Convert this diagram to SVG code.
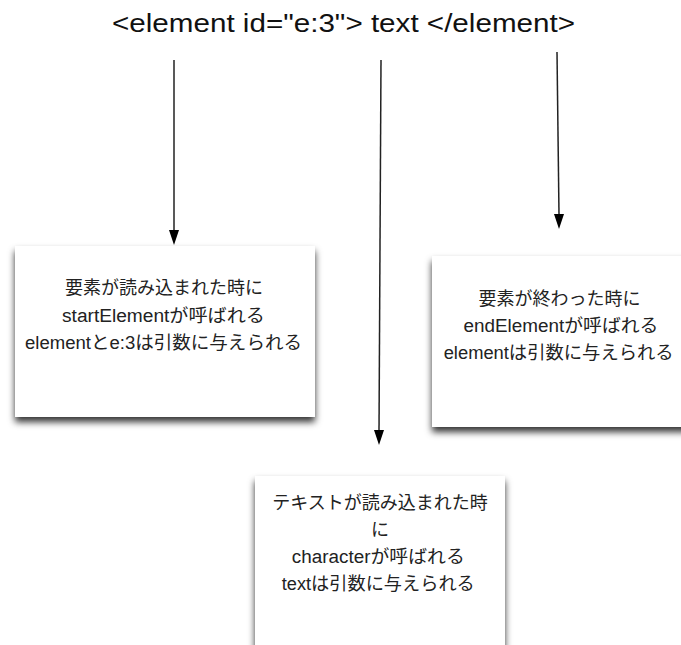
<svg xmlns="http://www.w3.org/2000/svg" width="681" height="645" viewBox="0 0 681 645">
<style>
.box{fill:#ffffff;filter:url(#sh);}
.t{font-family:"Liberation Sans","Noto Sans CJK JP",sans-serif;font-size:18px;fill:#222;text-anchor:middle;}
.title{font-family:"Liberation Sans","Noto Sans CJK JP",sans-serif;font-size:25px;fill:#111;text-anchor:middle;}
.c{stroke:#222;stroke-width:1.5;fill:none;}
.ah{fill:#000;}
</style>
<defs>
<filter id="sh" x="-10%" y="-10%" width="120%" height="130%">
<feDropShadow dx="0" dy="5" stdDeviation="3.5" flood-color="#000" flood-opacity="0.8"/>
</filter>
</defs>
<rect width="681" height="645" fill="#ffffff"/>
<text class="title" x="343.5" y="32" textLength="463" lengthAdjust="spacingAndGlyphs">&lt;element id="e:3"&gt; text &lt;/element&gt;</text>
<g id="connectors">
<path class="c" d="M174,60 L174,231"/>
<path class="ah" d="M169,230 L179,230 L174,245 Z"/>
<path class="c" d="M381,60 L379,431"/>
<path class="ah" d="M374,430 L384,430 L379,445 Z"/>
<path class="c" d="M557,52 L559,215"/>
<path class="ah" d="M554,214 L564,214 L559,229 Z"/>
</g>
<g id="start">
<rect class="box" x="15" y="246" width="300" height="171"/>
<text class="t" x="164" y="294">要素が読み込まれた時に</text>
<text class="t" x="163.5" y="322" textLength="203" lengthAdjust="spacingAndGlyphs">startElementが呼ばれる</text>
<text class="t" x="163.5" y="349" textLength="277" lengthAdjust="spacingAndGlyphs">elementとe:3は引数に与えられる</text>
</g>
<g id="end">
<rect class="box" x="432" y="256" width="260" height="171"/>
<text class="t" x="559.5" y="305">要素が終わった時に</text>
<text class="t" x="561" y="332" textLength="195" lengthAdjust="spacingAndGlyphs">endElementが呼ばれる</text>
<text class="t" x="558.7" y="359" textLength="230" lengthAdjust="spacingAndGlyphs">elementは引数に与えられる</text>
</g>
<g id="characters">
<rect class="box" x="255" y="476" width="250" height="200"/>
<text class="t" x="380" y="509">テキストが読み込まれた時</text>
<text class="t" x="380" y="536">に</text>
<text class="t" x="378.3" y="563" textLength="173" lengthAdjust="spacingAndGlyphs">characterが呼ばれる</text>
<text class="t" x="378.3" y="590" textLength="193" lengthAdjust="spacingAndGlyphs">textは引数に与えられる</text>
</g>
</svg>
